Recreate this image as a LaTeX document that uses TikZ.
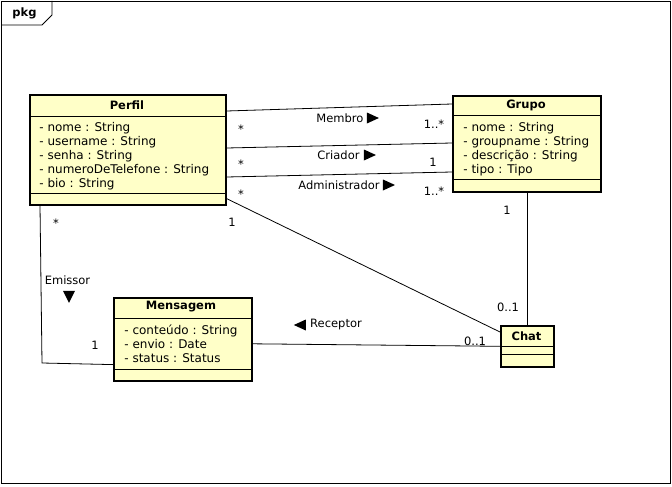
\documentclass[tikz,border=0pt]{standalone}
\usepackage{fontspec}
\setmainfont{DejaVu Sans}
\usetikzlibrary{arrows.meta}

\definecolor{umlamarelo}{RGB}{255,255,200}

\begin{document}
\begin{tikzpicture}[%
        x = 1pt, y = -1pt,
        every path/.style = {line width = 0.8pt},
        classe/.style = {draw, line width = 1.6pt, fill = umlamarelo,
            anchor = north west, inner sep = 0pt},
        titulo/.style = {font = \fontsize{11.5}{14}\selectfont\bfseries},
        atributos/.style = {font = \fontsize{12}{14}\selectfont,
            align = left, anchor = north west, inner sep = 0pt},
        rotulo/.style = {font = \fontsize{11.5}{13}\selectfont, inner sep = 0pt}
    ]
        \useasboundingbox (0,0) rectangle (672,487);

        % The package frame with its tab.
        \draw (1,1) rectangle (670,483);
        \draw (1,25) -- (42,25) -- (52,15) -- (52,1);
        \node[titulo] (pkg) at (24.5,13) {pkg};

        % The classes.
        \node[classe, minimum width = 196, minimum height = 110] (perfil) at (29,94) {};
        \node[classe, minimum width = 148, minimum height = 96] (grupo) at (452,95) {};
        \node[classe, minimum width = 138, minimum height = 83] (mensagem) at (113,297) {};
        \node[classe, minimum width = 53, minimum height = 41] (chat) at (500,325) {};

        % Compartment lines.
        \begin{scope}[line width = 1pt]
            \draw (perfil.west |- 0,116) to (perfil.east |- 0,116);
            \draw (perfil.west |- 0,193) to (perfil.east |- 0,193);
            \draw (grupo.west |- 0,115) to (grupo.east |- 0,115);
            \draw (grupo.west |- 0,179) to (grupo.east |- 0,179);
            \draw (mensagem.west |- 0,318) to (mensagem.east |- 0,318);
            \draw (mensagem.west |- 0,369) to (mensagem.east |- 0,369);
            \draw (chat.west |- 0,346) to (chat.east |- 0,346);
            \draw (chat.west |- 0,354) to (chat.east |- 0,354);
        \end{scope}

        % Names and attributes.
        \node[titulo] (perfilnome) at (127,105) {Perfil};
        \node[atributos] (perfilatr) at (39,121.5) {- nome : String\\- username : String\\- senha : String\\- numeroDeTelefone : String\\- bio : String};
        \node[titulo] (gruponome) at (526,105) {Grupo};
        \node[atributos] (grupoatr) at (463,121.5) {- nome : String\\- groupname : String\\- descrição : String\\- tipo : Tipo};
        \node[titulo] (mensagemnome) at (181,307) {Mensagem};
        \node[atributos] (mensagematr) at (124,324.5) {- conteúdo : String\\- envio : Date\\- status : Status};
        \node[titulo] (chatnome) at (526.5,336) {Chat};

        % The associations.
        \coordinate (emissorcanto) at (42,363);
        \draw ([yshift = -17]perfil.north east) to ([yshift = -9]grupo.north west);
        \draw ([yshift = -54]perfil.north east) to ([yshift = -48]grupo.north west);
        \draw ([yshift = -83]perfil.north east) to ([yshift = -77]grupo.north west);
        \draw ([yshift = 7]perfil.south east) to ([yshift = -7]chat.north west);
        \draw (chat.north |- grupo.south) to (chat.north);
        \draw ([yshift = -4.5]mensagem.east) to (chat.west);
        \draw ([xshift = 11]perfil.south west) to (emissorcanto) to ([yshift = 17]mensagem.south west);

        % Association names and their direction marks.
        \node[rotulo] (membro) at (340,118) {Membro};
        \fill ([xshift = 3]membro.east) ++(0,-5.5) -- ++(12,5.5) -- ++(-12,5.5) -- cycle;
        \node[rotulo] (criador) at (338.5,155) {Criador};
        \fill ([xshift = 4]criador.east) ++(0,-5.5) -- ++(12,5.5) -- ++(-12,5.5) -- cycle;
        \node[rotulo] (administrador) at (339,185) {Administrador};
        \fill ([xshift = 3]administrador.east) ++(0,-5.5) -- ++(12,5.5) -- ++(-12,5.5) -- cycle;
        \node[rotulo] (receptor) at (336,325) {Receptor};
        \fill ([xshift = -4]receptor.west) ++(0,-5.5) -- ++(-12,5.5) -- ++(12,5.5) -- cycle;
        \node[rotulo] (emissor) at (67.5,280) {Emissor};
        \fill ([xshift = 1.5, yshift = -6]emissor.south) ++(-6,0) -- ++(12,0) -- ++(-6,12) -- cycle;

        % Multiplicities.
        \node[rotulo] (m1) at (241,129) {*};
        \node[rotulo] (m2) at (434,124) {1..*};
        \node[rotulo] (m3) at (241,164) {*};
        \node[rotulo] (m4) at (433,162) {1};
        \node[rotulo] (m5) at (241,194) {*};
        \node[rotulo] (m6) at (434,191) {1..*};
        \node[rotulo] (m7) at (232,222) {1};
        \node[rotulo] (m8) at (507,210) {1};
        \node[rotulo] (m9) at (508,307) {0..1};
        \node[rotulo] (m10) at (475,341) {0..1};
        \node[rotulo] (m11) at (56,223) {*};
        \node[rotulo] (m12) at (95,345) {1};
    \end{tikzpicture}
\end{document}
